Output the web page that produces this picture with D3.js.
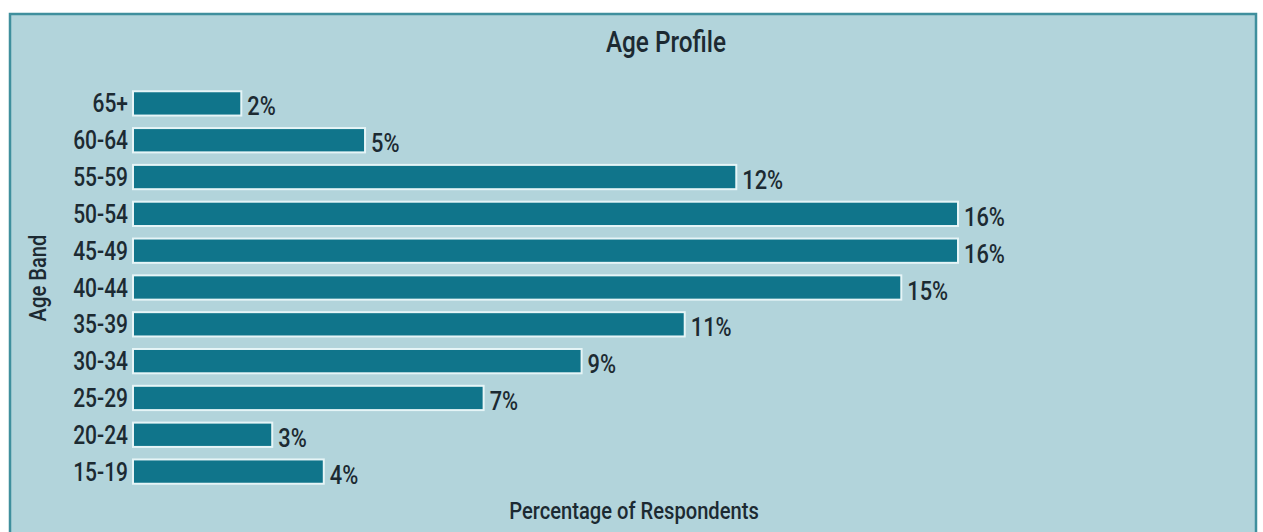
<!DOCTYPE html>
<html><head><meta charset="utf-8">
<script src="https://cdn.jsdelivr.net/npm/d3@7"></script>
<style>
html,body{margin:0;padding:0;background:#fff;}
svg{display:block;}
text{font-family:Roboto,"DejaVu Sans Condensed",sans-serif;fill:#1c2a32;font-weight:500;}
</style></head>
<body>
<svg id="chart" width="1263" height="532"></svg>
<script>
const categories = ["65+","60-64","55-59","50-54","45-49","40-44","35-39","30-34","25-29","20-24","15-19"];
const values = [2.1,4.5,11.7,16.0,16.0,14.9,10.7,8.7,6.8,2.7,3.7];
const valueLabels = ["2%","5%","12%","16%","16%","15%","11%","9%","7%","3%","4%"];
const title = "Age Profile";
const xTitle = "Percentage of Respondents";
const yTitle = "Age Band";

const SX = 0.84; // horizontal condensing of the font

const svg = d3.select("#chart");
svg.append("rect").attr("x",10).attr("y",14).attr("width",1246).attr("height",530)
  .attr("fill","#b2d4db").attr("stroke","#3f8f9d").attr("stroke-width",2.5);

const x = d3.scaleLinear().domain([0,16]).range([133,958]);
const y = d3.scaleBand().domain(categories).range([85,490]).paddingInner(0.34).paddingOuter(0.17);

const data = categories.map((c,i)=>({c,v:values[i],l:valueLabels[i]}));

svg.append("g").selectAll("rect").data(data).join("rect")
  .attr("x",x(0)).attr("y",d=>y(d.c))
  .attr("width",d=>x(d.v)-x(0)).attr("height",y.bandwidth())
  .attr("fill","#10758b").attr("stroke","#e6f5f7").attr("stroke-width",2);

const yAxis = d3.axisLeft(y).tickSize(0).tickPadding(0);
const gy = svg.append("g").attr("transform",`translate(${x(0)-5},0)`).call(yAxis);
gy.select(".domain").remove();
gy.selectAll("text").attr("x",0).attr("dy",null).attr("y",9)
  .attr("transform",`scale(${SX},1)`)
  .style("font-size","25px").style("font-family",null).attr("fill","#1c2a32");

svg.append("g").selectAll("text").data(data).join("text")
  .attr("transform",d=>`translate(${x(d.v)+6},${y(d.c)+y.bandwidth()/2+12}) scale(${SX},1)`)
  .style("font-size","26px").text(d=>d.l);

svg.append("text").attr("transform",`translate(666,52) scale(${SX},1)`).attr("text-anchor","middle")
  .style("font-size","29px").text(title);
svg.append("text").attr("transform",`translate(634,519) scale(${SX},1)`).attr("text-anchor","middle")
  .style("font-size","24px").text(xTitle);
svg.append("text").attr("transform",`translate(46,278) rotate(-90) scale(${SX},1)`).attr("text-anchor","middle")
  .style("font-size","24px").text(yTitle);
</script>
</body></html>
